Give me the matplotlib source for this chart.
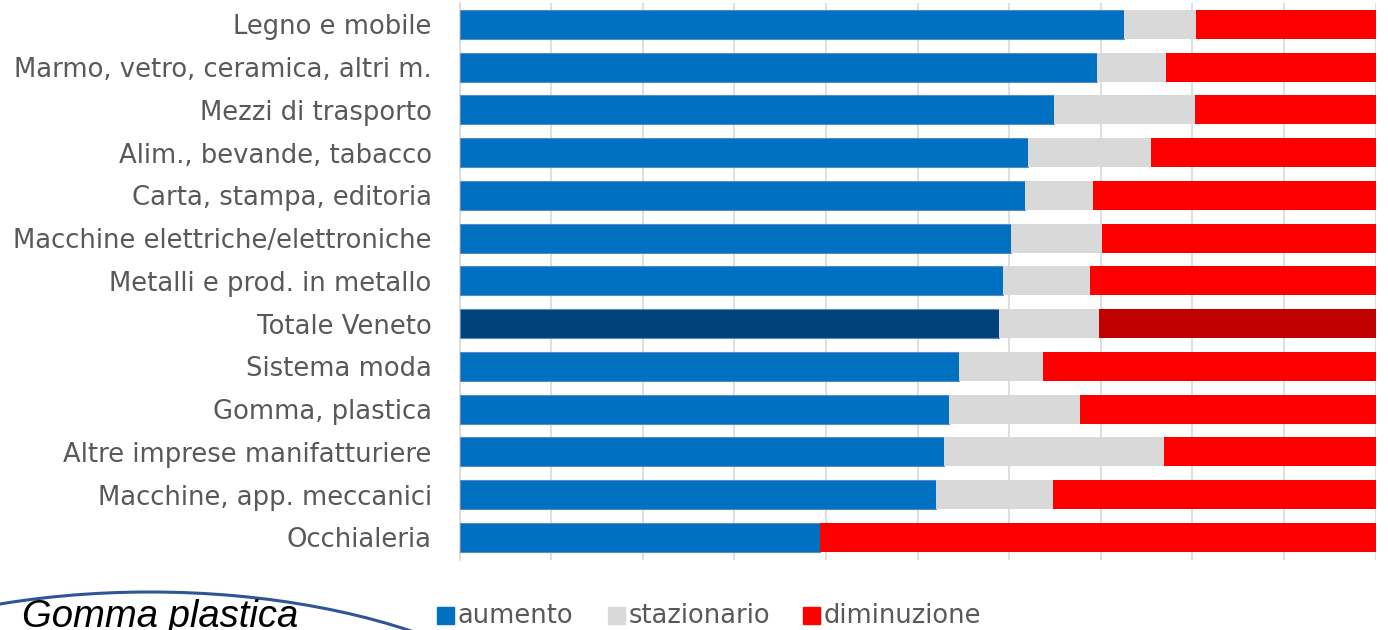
import matplotlib

matplotlib.use("Agg")
import matplotlib.pyplot as plt
from matplotlib.patches import Ellipse
import numpy as np

plt.rcParams["font.family"] = ["DejaVu Sans"]

# data (percent shares), top to bottom
categories = [
    "Legno e mobile",
    "Marmo, vetro, ceramica, altri m.",
    "Mezzi di trasporto",
    "Alim., bevande, tabacco",
    "Carta, stampa, editoria",
    "Macchine elettriche/elettroniche",
    "Metalli e prod. in metallo",
    "Totale Veneto",
    "Sistema moda",
    "Gomma, plastica",
    "Altre imprese manifatturiere",
    "Macchine, app. meccanici",
    "Occhialeria",
]
aumento = [72.5, 69.6, 64.9, 62.0, 61.7, 60.2, 59.3, 58.9, 54.5, 53.4, 52.9, 52.0, 39.3]
stazionario = [7.9, 7.5, 15.4, 13.5, 7.4, 9.9, 9.5, 10.9, 9.2, 14.3, 24.0, 12.8, 0.0]
diminuzione = [100 - a - s for a, s in zip(aumento, stazionario)]
highlight = "Totale Veneto"

W, H = 1388, 630
fig = plt.figure(figsize=(W / 100, H / 100), dpi=100)
ax = fig.add_axes([459.5 / W, 1 - 560 / H, (1375.7 - 459.5) / W, (560 - 3) / H])

y = np.arange(len(categories))
blue_c = ["#00427A" if c == highlight else "#0070C0" for c in categories]
red_c = ["#C00000" if c == highlight else "#FF0000" for c in categories]
a = np.array(aumento)
s = np.array(stazionario)
d = np.array(diminuzione)

ax.barh(y, a, height=0.68, color=blue_c, edgecolor="#5a8ac6", linewidth=0.8, zorder=3)
ax.barh(y, s, left=a, height=0.68, color="#D9D9D9", linewidth=0, zorder=3)
ax.barh(y, d, left=a + s, height=0.68, color=red_c, linewidth=0, zorder=3)

ax.set_xlim(0, 100)
ax.set_ylim(len(categories) - 0.47, -0.5)
ax.set_xticks(np.arange(0, 101, 10))
ax.xaxis.grid(True, color="#D9D9D9", linewidth=1.2, zorder=0)
ax.tick_params(axis="x", length=0, labelbottom=False)
ax.tick_params(axis="y", length=0, pad=20, labelsize=18.6, labelcolor="#595959")
ax.set_yticks(y)
ax.set_yticklabels(categories)
for side in ["top", "right", "bottom"]:
    ax.spines[side].set_visible(False)
ax.spines["left"].set_color("#D9D9D9")
ax.spines["left"].set_linewidth(1.2)
ax.set_axisbelow(True)

# overlay in pixel coordinates for legend and callout
ov = fig.add_axes([0, 0, 1, 1], zorder=5)
ov.set_xlim(0, W)
ov.set_ylim(H, 0)
ov.axis("off")
ov.patch.set_alpha(0)

legend_items = [("aumento", "#0070C0", 437), ("stazionario", "#D9D9D9", 608), ("diminuzione", "#FF0000", 803)]
for lab, col, x in legend_items:
    ov.add_patch(plt.Rectangle((x, 607), 17, 17, color=col))
    ov.text(x + 21, 616, lab, fontsize=18.5, color="#595959", va="center", ha="left")

ov.add_patch(Ellipse((150, 792), 880, 400, fill=False, edgecolor="#2F5597", linewidth=2.2))
ov.text(22, 599, "Gomma plastica", fontsize=27.5, style="italic", family="Liberation Sans",
        color="black", va="top", ha="left")

fig.savefig("out.png", dpi=100)
